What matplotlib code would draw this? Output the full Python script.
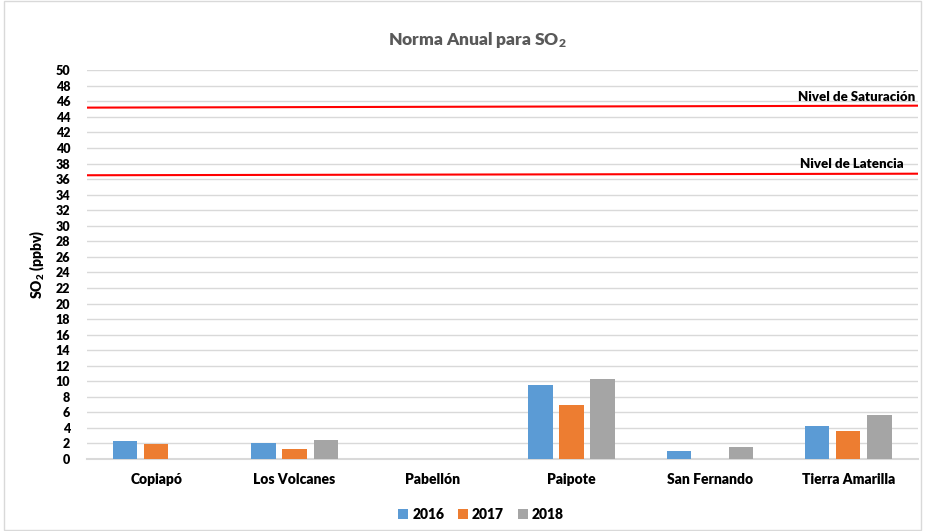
import numpy as np
import matplotlib
matplotlib.use("Agg")
import matplotlib.pyplot as plt
from matplotlib.patches import Rectangle

plt.rcParams["font.family"] = ["Lato", "DejaVu Sans"]
plt.rcParams["font.weight"] = "heavy"
plt.rcParams["axes.labelweight"] = "heavy"
plt.rcParams["mathtext.fontset"] = "custom"
plt.rcParams["mathtext.rm"] = "Lato:heavy"
plt.rcParams["mathtext.bf"] = "Lato:heavy"
plt.rcParams["mathtext.default"] = "rm"

stations = ["Copiapó", "Los Volcanes", "Pabellón", "Paipote", "San Fernando", "Tierra Amarilla"]
years = ["2016", "2017", "2018"]
so2_2016 = [2.3, 2.1, 0.0, 9.5, 1.0, 4.3]
so2_2017 = [1.9, 1.25, 0.0, 6.9, 0.0, 3.55]
so2_2018 = [0.0, 2.5, 0.0, 10.3, 1.5, 5.6]
saturacion = [45.2, 45.45]
latencia = [36.5, 36.7]

colors = ["#5b9bd5", "#ed7d31", "#a5a5a5"]

fig = plt.figure(figsize=(9.25, 5.31), dpi=100)
ax = fig.add_axes([0.094, 0.1356, 0.898, 0.732])

x = np.arange(len(stations))
step = 0.224
width = 0.175
for i, (vals, year) in enumerate(zip([so2_2016, so2_2017, so2_2018], years)):
    ax.bar(x + (i - 1) * step, vals, width=width, color=colors[i], label=year, zorder=3)

ax.plot([-0.5, len(stations) - 0.5], saturacion, color="#ff0000", lw=1.5, zorder=4)
ax.plot([-0.5, len(stations) - 0.5], latencia, color="#ff0000", lw=1.5, zorder=4)
ax.text(5.48, saturacion[1] + 0.35, "Nivel de Saturación", ha="right", va="bottom",
        fontsize=9.5, color="black")
ax.text(5.4, latencia[1] + 0.5, "Nivel de Latencia", ha="right", va="bottom",
        fontsize=9.5, color="black")

ax.set_xlim(-0.5, len(stations) - 0.5)
ax.set_ylim(0, 50)
ax.set_yticks(np.arange(0, 51, 2))
ax.set_xticks(x)
ax.set_xticklabels(stations, fontsize=10)
ax.tick_params(axis="y", labelsize=9, length=0, pad=12)
ax.tick_params(axis="x", length=0, pad=10)
ax.grid(axis="y", color="#d9d9d9", lw=1, zorder=0)
for s in ["top", "right", "left"]:
    ax.spines[s].set_visible(False)
ax.spines["bottom"].set_color("#d9d9d9")
ax.spines["bottom"].set_linewidth(1.5)

ax.set_ylabel(r"SO$_2$ (ppbv)", fontsize=10, fontweight="heavy", labelpad=6)
fig.text(0.516, 0.925, r"Norma Anual para SO$_2$", ha="center", va="center",
         fontsize=12.5, color="#595959")

leg = fig.legend(loc="center", bbox_to_anchor=(0.52, 0.032), ncol=3, frameon=False,
                 fontsize=10, handlelength=0.7, handleheight=0.7, handletextpad=0.3,
                 columnspacing=1.0)

fig.patches.append(Rectangle((0.004, 0.002), 0.992, 0.996, transform=fig.transFigure,
                             fill=False, edgecolor="#d9d9d9", lw=1))

fig.savefig("out.png", dpi=100)
